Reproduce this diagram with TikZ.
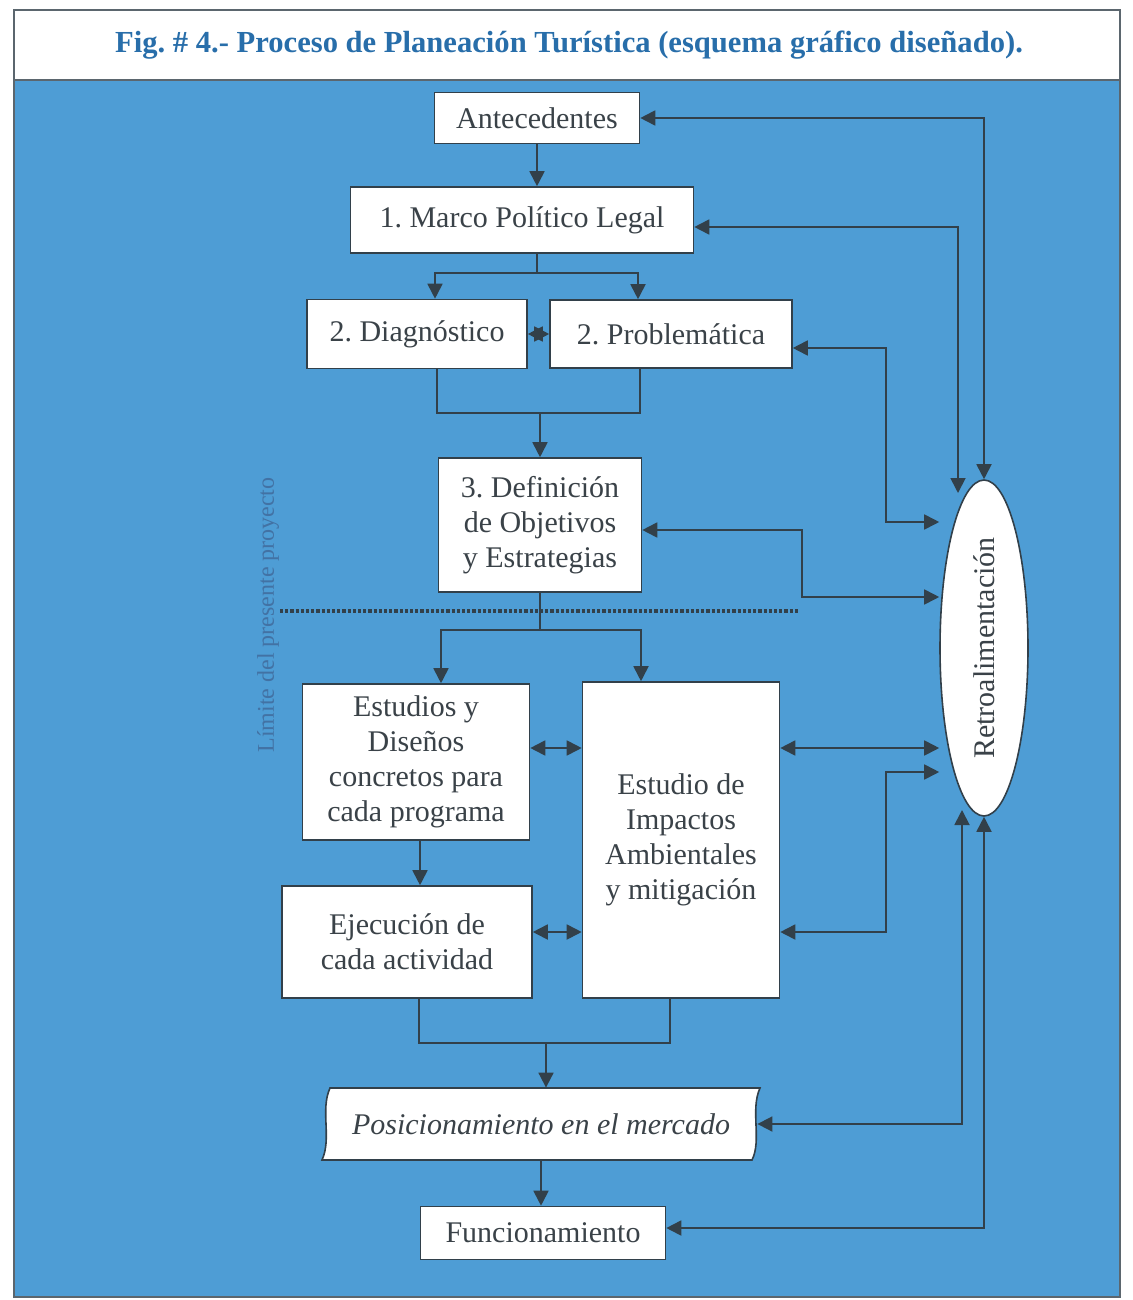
\documentclass[tikz,border=0pt]{standalone}
\usepackage{fontspec}
\setmainfont{Liberation Serif}
\usetikzlibrary{arrows.meta,shapes.geometric,positioning,calc}
\definecolor{bgblue}{RGB}{78,157,213}
\definecolor{linec}{RGB}{50,64,74}
\definecolor{textc}{RGB}{58,66,72}
\definecolor{titleblue}{RGB}{40,110,170}
\definecolor{limc}{RGB}{66,114,164}
\frenchspacing

\begin{document}
\begin{tikzpicture}[x=0.5pt, y=-0.5pt, >={Triangle[length=7.5pt,width=7.5pt]},
        ln/.style={draw=linec,line width=0.9pt},
        fb/.style={ln,<->},
        frame/.style={draw=linec!80,line width=1pt},
        box/.style={rectangle,draw=linec,fill=white,line width=0.8pt,text=textc,
          font=\fontsize{15}{17.5}\selectfont,align=center,inner sep=2pt},
        retro/.style={ellipse,draw=linec,fill=white,line width=0.8pt,inner sep=0pt}]
        \useasboundingbox (0,0) rectangle (1133,1300);
        \fill[white] (0,0) rectangle (1133,1300);
        \fill[bgblue] (14,80) rectangle (1120,1297);
        \draw[frame] (14,10) rectangle (1120,1297);
        \draw[frame] (14,80) -- (1120,80);
        \node[font=\bfseries\fontsize{15.3}{18}\selectfont,text=titleblue] at (569,45) (title)
          {Fig. \# 4.- Proceso de Planeación Turística (esquema gráfico diseñado).};
        % cajas del proceso
        \node[box,minimum width=102.5pt,minimum height=25.5pt] at (537,118) (ant) {Antecedentes};
        \node[box,minimum width=171.5pt,minimum height=33pt] at (522,220) (marco) {1. Marco Político Legal};
        \node[box,minimum width=110pt,minimum height=34.5pt] at (417,334) (diag) {2. Diagnóstico};
        \node[box,minimum width=121pt,minimum height=34pt] at (671,334) (prob) {2. Problemática};
        \node[box,minimum width=101.5pt,minimum height=67pt] at (540,525) (defi) {3. Definición\\de Objetivos\\y Estrategias};
        \node[box,minimum width=113.5pt,minimum height=78pt] at (416,762) (estu) {Estudios y\\Diseños\\concretos para\\cada programa};
        \node[box,minimum width=98.5pt,minimum height=158pt] at (681,840) (impa) {Estudio de\\Impactos\\Ambientales\\y mitigación};
        \node[box,minimum width=125pt,minimum height=56pt] at (407,942) (ejec) {Ejecución de\\cada actividad};
        \draw[linec,fill=white,line width=0.8pt] (330,1088) -- (760,1088) .. controls (750,1110) and (762,1140) .. (752,1160)
          -- (322,1160) .. controls (332,1138) and (320,1110) .. (330,1088) -- cycle;
        \node[text=textc,font=\itshape\fontsize{15}{17.5}\selectfont,minimum width=216pt,minimum height=36pt,inner sep=0pt] at (541,1124) (posi) {Posicionamiento en el mercado};
        \node[box,minimum width=122.5pt,minimum height=26.5pt] at (543,1233) (func) {Funcionamiento};
        \node[retro,minimum width=44pt,minimum height=168pt,
          label={[rotate=90,text=textc,font=\fontsize{15}{17.5}\selectfont]center:Retroalimentación}] at (984,648) (retro) {};
        \node[rotate=90,text=limc,font=\fontsize{12}{14}\selectfont] at (268,615) (limite) {Límite del presente proyecto};
        \coordinate (lim1) at (280,611);
        \coordinate (lim2) at (800,611);
        \draw[linec,line width=1.6pt,dash pattern=on 1.6pt off 1pt] (lim1) -- (lim2);
        % uniones
        \coordinate (j1) at (537,273);
        \coordinate (j2) at (540,413);
        \coordinate (j3) at (540,630);
        \coordinate (j4) at (546,1043);
        \coordinate (iw1) at ($(impa.west)+(0,-92)$);
        \coordinate (iw2) at ($(impa.west)+(0,92)$);
        \coordinate (ie1) at ($(impa.east)+(0,-92)$);
        \coordinate (ie2) at ($(impa.east)+(0,92)$);
        \draw[ln,->] (ant) -- (ant |- marco.north);
        \draw[ln] (marco.south -| j1) -- (j1);
        \draw[ln,->] (j1) -| ($(diag.north)+(18,0)$);
        \draw[ln,->] (j1) -| ($(prob.north)+(-33,0)$);
        \draw[ln,<->] (diag) -- (prob);
        \draw[ln] ($(diag.south)+(20,0)$) |- (j2) -| ($(prob.south)+(-31,0)$);
        \draw[ln,->] (j2) -- (j2 |- defi.north);
        \draw[ln] (defi) -- (j3);
        \draw[ln,->] (j3) -| ($(estu.north)+(25,0)$);
        \draw[ln,->] (j3) -| ($(impa.north)+(-40,0)$);
        \draw[ln,->] ($(estu.south)+(4,0)$) -- ($(ejec.north)+(13,0)$);
        \draw[ln,<->] (estu.east |- iw1) -- (iw1);
        \draw[ln,<->] (ejec.east |- iw2) -- (iw2);
        \draw[ln] ($(ejec.south)+(12,0)$) |- (j4) -| ($(impa.south)+(-11,0)$);
        \draw[ln,->] (j4) -- (j4 |- posi.north);
        \draw[ln,->] (posi) -- (posi |- func.north);
        % retroalimentacion
        \coordinate (kB) at (958,493);
        \coordinate (kP) at (886,522);
        \coordinate (kD) at (802,597);
        \coordinate (kF) at (886,772);
        \coordinate (kG) at (962,810);
        \draw[fb] (ant) -| (retro.north);
        \draw[fb] ($(marco.east)+(0,7)$) -| (kB);
        \draw[fb] ($(prob.east)+(0,14)$) -| (kP) -- (kP -| retro.west);
        \draw[fb] ($(defi.east)+(0,5)$) -| (kD) -- (kD -| retro.west);
        \draw[fb] (ie1) -- (ie1 -| retro.west);
        \draw[fb] (ie2) -| (kF) -- (kF -| retro.west);
        \draw[fb] (posi) -| (kG);
        \draw[fb] ($(func.east)+(0,-5)$) -| (retro.south);
\end{tikzpicture}
\end{document}
